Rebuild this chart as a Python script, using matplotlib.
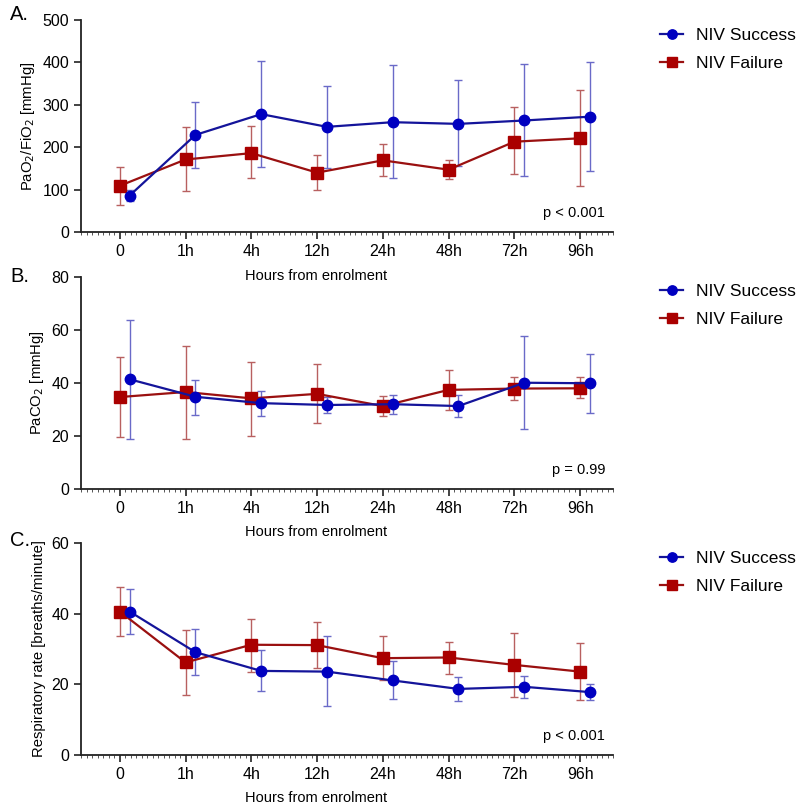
import matplotlib
matplotlib.use("Agg")
import matplotlib.pyplot as plt
from matplotlib.ticker import MultipleLocator
import numpy as np

plt.rcParams['font.family'] = ['Liberation Sans', 'DejaVu Sans']

timepoints = ["0", "1h", "4h", "12h", "24h", "48h", "72h", "96h"]

# Panel A: PaO2/FiO2
a_succ = [86, 229, 278, 248, 259, 255, 263, 272]
a_succ_lo = [73, 152, 153, 152, 127, 156, 133, 143]
a_succ_hi = [100, 306, 403, 344, 395, 358, 396, 401]
a_fail = [109, 171, 186, 140, 169, 147, 213, 221]
a_fail_lo = [64, 96, 127, 98, 133, 125, 136, 108]
a_fail_hi = [154, 248, 250, 182, 207, 170, 294, 336]

# Panel B: PaCO2
b_succ = [41.4, 34.8, 32.4, 31.7, 32.0, 31.3, 40.1, 39.9]
b_succ_lo = [18.8, 27.8, 27.7, 28.6, 28.3, 27.3, 22.6, 28.8]
b_succ_hi = [63.7, 41.3, 37.0, 34.6, 35.5, 35.5, 57.7, 50.9]
b_fail = [34.7, 36.6, 34.2, 35.9, 31.3, 37.4, 37.9, 38.0]
b_fail_lo = [19.8, 18.8, 20.1, 24.8, 27.7, 29.8, 33.4, 34.5]
b_fail_hi = [49.9, 53.9, 48.0, 47.0, 35.1, 44.9, 42.1, 42.1]

# Panel C: respiratory rate
c_succ = [40.6, 29.1, 23.8, 23.6, 21.1, 18.7, 19.3, 17.8]
c_succ_lo = [34.3, 22.7, 18.1, 13.9, 15.9, 15.4, 16.1, 15.6]
c_succ_hi = [47.0, 35.7, 29.8, 33.6, 26.5, 22.2, 22.5, 20.2]
c_fail = [40.6, 26.2, 31.2, 31.1, 27.4, 27.6, 25.5, 23.6]
c_fail_lo = [33.8, 17.0, 23.6, 24.6, 21.3, 23.0, 16.5, 15.6]
c_fail_hi = [47.6, 35.4, 38.6, 37.6, 33.8, 32.1, 34.5, 31.6]

panels = [
    dict(letter="A.", ylabel="PaO$_2$/FiO$_2$ [mmHg]", ylim=500, ystep=100, p="p < 0.001",
         succ=(a_succ, a_succ_lo, a_succ_hi), fail=(a_fail, a_fail_lo, a_fail_hi)),
    dict(letter="B.", ylabel="PaCO$_2$ [mmHg]", ylim=80, ystep=20, p="p = 0.99",
         succ=(b_succ, b_succ_lo, b_succ_hi), fail=(b_fail, b_fail_lo, b_fail_hi)),
    dict(letter="C.", ylabel="Respiratory rate [breaths/minute]", ylim=60, ystep=20, p="p < 0.001",
         succ=(c_succ, c_succ_lo, c_succ_hi), fail=(c_fail, c_fail_lo, c_fail_hi)),
]

W, H = 797, 808
fig = plt.figure(figsize=(W / 100, H / 100), dpi=100)

ax_top_px = [20, 277, 543]
ax_h_px = 212
ax_left_px, ax_w_px = 81, 532
letter_y_px = [15, 277, 541]
legend_top_px = [28, 284, 551]
xlabel_y_px = [276, 532, 798]

blue_line, blue_mk, blue_err = "#14149a", "#0000c0", "#6a6ac8"
red_line, red_mk, red_err = "#9a1010", "#aa0000", "#b86060"

x = np.arange(len(timepoints))
offset = 0.15

for i, p in enumerate(panels):
    bottom = 1 - (ax_top_px[i] + ax_h_px) / H
    ax = fig.add_axes([ax_left_px / W, bottom, ax_w_px / W, ax_h_px / H])
    ax.patch.set_alpha(0)

    fv, flo, fhi = (np.array(v) for v in p["fail"])
    sv, slo, shi = (np.array(v) for v in p["succ"])

    ax.errorbar(x, fv, yerr=[fv - flo, fhi - fv], fmt="none", ecolor=red_err,
                elinewidth=1.0, capsize=3, capthick=1.0, zorder=2)
    ax.errorbar(x + offset, sv, yerr=[sv - slo, shi - sv], fmt="none", ecolor=blue_err,
                elinewidth=1.0, capsize=3, capthick=1.0, zorder=2)
    l1, = ax.plot(x + offset, sv, color=blue_line, lw=1.6, marker="o", ms=7.5,
                  mfc=blue_mk, mec=blue_mk, zorder=4, label="NIV Success")
    l2, = ax.plot(x, fv, color=red_line, lw=1.6, marker="s", ms=8,
                  mfc=red_mk, mec=red_mk, zorder=3, label="NIV Failure")

    ax.set_xlim(-0.59, 7.5)
    ax.set_ylim(0, p["ylim"])
    ax.yaxis.set_major_locator(MultipleLocator(p["ystep"]))
    ax.set_xticks(x)
    ax.set_xticklabels(timepoints)
    ax.xaxis.set_minor_locator(MultipleLocator(1 / 12))
    ax.tick_params(axis="both", which="major", labelsize=11.5, length=5, width=1.2, color="#222222")
    ax.tick_params(axis="x", which="minor", length=2, width=0.7, color="#555555")
    for s in ["top", "right"]:
        ax.spines[s].set_visible(False)
    for s in ["left", "bottom"]:
        ax.spines[s].set_linewidth(1.3)
        ax.spines[s].set_color("#222222")

    ax.set_ylabel(p["ylabel"], fontsize=10.7)
    fig.text(316 / W, 1 - xlabel_y_px[i] / H, "Hours from enrolment", fontsize=10.5,
             ha="center", va="center")

    ax.text(0.985, 0.09, p["p"], transform=ax.transAxes, ha="right", va="center", fontsize=10.5)

    fig.text(10 / W, 1 - letter_y_px[i] / H, p["letter"], fontsize=14.5, ha="left", va="center")

    ax.legend(handles=[l1, l2], loc="upper left",
              bbox_to_anchor=(660 / W, 1 - legend_top_px[i] / H), bbox_transform=fig.transFigure,
              frameon=False, fontsize=12.5, handlelength=1.35, handletextpad=0.75,
              borderpad=0, borderaxespad=0, labelspacing=0.75, markerscale=0.9)

fig.savefig("out.png", dpi=100)
